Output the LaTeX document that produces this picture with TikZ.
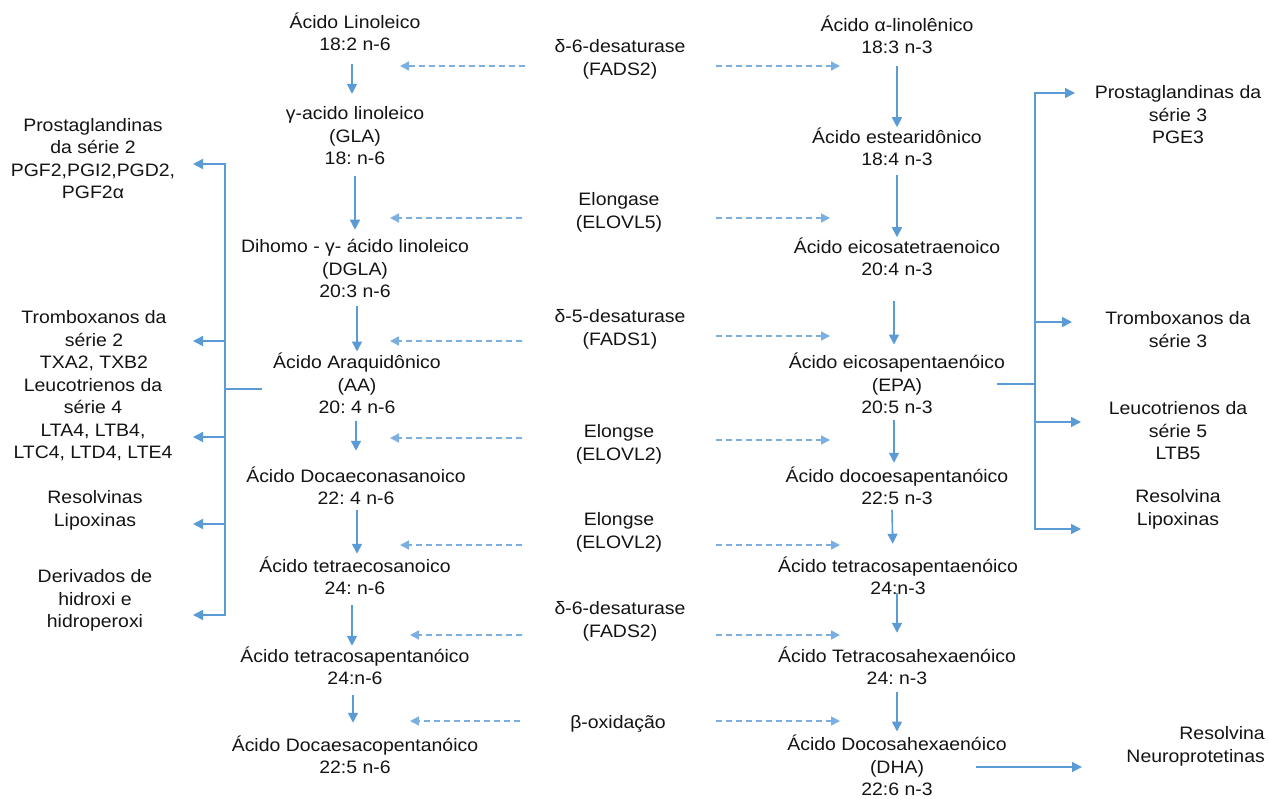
\documentclass[tikz,border=0pt]{standalone}
\usepackage{fontspec}
\setmainfont{Liberation Sans}[FakeStretch=1.08]
\usetikzlibrary{arrows.meta}
\definecolor{arrblue}{HTML}{5B9BD5}
\definecolor{dashblue}{HTML}{7BAFE0}
\definecolor{ink}{HTML}{141414}
\frenchspacing
\begin{document}
\begin{tikzpicture}[x=1pt,y=-1pt,
  txt/.style={font=\fontsize{18}{22.5}\selectfont, align=center, inner sep=0pt, text=ink,
    execute at begin node=\rule{0pt}{17pt}, execute at end node=\rule[-5pt]{0pt}{5pt}},
  arr/.style={draw=arrblue, line width=1.6pt, -{Triangle[length=10pt,width=10pt]}},
  darr/.style={draw=dashblue, line width=1.6pt, dash pattern=on 6pt off 4pt, -{Triangle[length=9pt,width=9pt]}},
  ln/.style={draw=arrblue, line width=1.6pt}]
\useasboundingbox (0,0) rectangle (1269,798);
\fill[white] (0,0) rectangle (1269,798);

% n-6 column
\node[txt] (la)   at (355,34)  {Ácido Linoleico\\18:2 n-6};
\node[txt] (gla)  at (355,138) {γ-acido linoleico\\(GLA)\\18: n-6};
\node[txt] (dgla) at (355,271) {Dihomo - γ- ácido linoleico\\(DGLA)\\20:3 n-6};
\node[txt] (aa)   at (357,386) {Ácido Araquidônico\\(AA)\\20: 4 n-6};
\node[txt] (dpa6) at (356,488) {Ácido Docaeconasanoico\\22: 4 n-6};
\node[txt] (tta)  at (355,578) {Ácido tetraecosanoico\\24: n-6};
\node[txt] (tpa)  at (355,668) {Ácido tetracosapentanóico\\24:n-6};
\node[txt] (dpa)  at (355,757) {Ácido Docaesacopentanóico\\22:5 n-6};

% enzymes
\node[txt] (e1) at (620,60)  {δ-6-desaturase\\(FADS2)};
\node[txt] (e2) at (619,213) {Elongase\\(ELOVL5)};
\node[txt] (e3) at (620,330) {δ-5-desaturase\\(FADS1)};
\node[txt] (e4) at (619,445) {Elongse\\(ELOVL2)};
\node[txt] (e5) at (619,533) {Elongse\\(ELOVL2)};
\node[txt] (e6) at (620,622) {δ-6-desaturase\\(FADS2)};
\node[txt] (e7) at (618,722) {β-oxidação};

% n-3 column
\node[txt] (ala)  at (897,37)  {Ácido α-linolênico\\18:3 n-3};
\node[txt] (sda)  at (897,149) {Ácido estearidônico\\18:4 n-3};
\node[txt] (eta)  at (897,259) {Ácido eicosatetraenoico\\20:4 n-3};
\node[txt] (epa)  at (897,386) {Ácido eicosapentaenóico\\(EPA)\\20:5 n-3};
\node[txt] (dpa3) at (897,488) {Ácido docoesapentanóico\\22:5 n-3};
\node[txt] (tpa3) at (898,578) {Ácido tetracosapentaenóico\\24:n-3};
\node[txt] (tha)  at (897,668) {Ácido Tetracosahexaenóico\\24: n-3};
\node[txt] (dha)  at (897,768) {Ácido Docosahexaenóico\\(DHA)\\22:6 n-3};

% left products
\node[txt] (pg2) at (93,161)  {Prostaglandinas\\da série 2\\PGF2,PGI2,PGD2,\\PGF2α};
\node[txt] (tx2) at (94,342)  {Tromboxanos da\\série 2\\TXA2, TXB2};
\node[txt] (lt4) at (93,421)  {Leucotrienos da\\série 4\\LTA4, LTB4,\\LTC4, LTD4, LTE4};
\node[txt] (rl2) at (95,511)  {Resolvinas\\Lipoxinas};
\node[txt] (der) at (95,601)  {Derivados de\\hidroxi e\\hidroperoxi};

% right products
\node[txt] (pg3) at (1178,117) {Prostaglandinas da\\série 3\\PGE3};
\node[txt] (tx3) at (1178,332) {Tromboxanos da\\série 3};
\node[txt] (lt5) at (1178,433) {Leucotrienos da\\série 5\\LTB5};
\node[txt] (rl3) at (1178,510) {Resolvina\\Lipoxinas};
\node[txt, align=right, anchor=east] (rn) at (1265,747) {Resolvina\\Neuroprotetinas};

% n-6 flow
\draw[arr, shorten <=8.5pt, shorten >=12.5pt] ([xshift=-3pt]la.south) -- ([xshift=-3pt]gla.north);
\draw[arr, shorten <=6.5pt, shorten >=9.5pt] (gla.south) -- (dgla.north);
\draw[arr, shorten <=3.5pt, shorten >=1.5pt] ([xshift=2pt]dgla.south) -- ([xshift=0pt]aa.north);
\draw[arr, shorten <=1.5pt, shorten >=15.5pt] ([xshift=-1pt]aa.south) -- (dpa6.north);
\draw[arr, shorten <=0.5pt, shorten >=2.5pt] ([xshift=1pt]dpa6.south) -- ([xshift=2pt]tta.north);
\draw[arr, shorten <=5.5pt, shorten >=0.5pt] ([xshift=-3pt]tta.south) -- ([xshift=-3pt]tpa.north);
\draw[arr, shorten <=5.5pt, shorten >=12.5pt] ([xshift=-2pt]tpa.south) -- ([xshift=-2pt]dpa.north);

% n-3 flow
\draw[arr, shorten <=7.5pt, shorten >=0pt] (ala.south) -- (sda.north);
\draw[arr, shorten <=4.5pt, shorten >=0pt] (sda.south) -- (eta.north);
\draw[arr, shorten <=20.5pt, shorten >=8.5pt] ([xshift=-3pt]eta.south) -- ([xshift=-3pt]epa.north);
\draw[arr, shorten <=0.5pt, shorten >=3.5pt] ([xshift=-3pt]epa.south) -- ([xshift=-3pt]dpa3.north);
\draw[arr, shorten <=0pt, shorten >=12.5pt] ([xshift=-5pt]dpa3.south) -- ([xshift=-5pt]tpa3.north);
\draw[arr, shorten <=-6.5pt, shorten >=13.5pt] ([xshift=-1pt]tpa3.south) -- (tha.north);
\draw[arr, shorten <=2.5pt, shorten >=3.5pt] (tha.south) -- (dha.north);

% enzyme dashed arrows
\coordinate (d1a) at (525,66);  \coordinate (d1b) at (400,66);
\coordinate (d1c) at (716,66);  \coordinate (d1d) at (840,66);
\coordinate (d2a) at (522,218); \coordinate (d2b) at (390,218);
\coordinate (d2c) at (716,218); \coordinate (d2d) at (830,218);
\coordinate (d3a) at (522,341); \coordinate (d3b) at (390,341);
\coordinate (d3c) at (716,336); \coordinate (d3d) at (830,336);
\coordinate (d4a) at (522,438); \coordinate (d4b) at (390,438);
\coordinate (d4c) at (716,440); \coordinate (d4d) at (830,440);
\coordinate (d5a) at (522,545); \coordinate (d5b) at (400,545);
\coordinate (d5c) at (716,545); \coordinate (d5d) at (840,545);
\coordinate (d6a) at (522,635); \coordinate (d6b) at (410,635);
\coordinate (d6c) at (716,635); \coordinate (d6d) at (840,635);
\coordinate (d7a) at (520,721); \coordinate (d7b) at (410,721);
\coordinate (d7c) at (716,721); \coordinate (d7d) at (840,721);
\foreach \i in {1,...,7}{
  \draw[darr] (d\i a) -- (d\i b);
  \draw[darr] (d\i c) -- (d\i d);
}

% left branching from AA
\coordinate (lbt) at (225,164);
\coordinate (lbe) at (225,389);
\coordinate (lbb) at (225,615);
\coordinate (aaw) at (262,389);
\coordinate (lt1) at (193,164);
\coordinate (lt2) at (193,341);
\coordinate (lt3) at (193,437);
\coordinate (lt4p) at (193,524);
\coordinate (lt5) at (193,615);
\draw[ln] (aaw) -- (lbe);
\draw[arr] (lbe) -- (lbt) -- (lt1);
\draw[arr] (lbe) -- (lbb) -- (lt5);
\draw[arr] (lbe |- lt2) -- (lt2);
\draw[arr] (lbe |- lt3) -- (lt3);
\draw[arr] (lbe |- lt4p) -- (lt4p);

% right branching from EPA
\coordinate (rbt) at (1035,93);
\coordinate (rbe) at (1035,384);
\coordinate (rbb) at (1035,529);
\coordinate (epe) at (997,384);
\coordinate (rt1) at (1075,93);
\coordinate (rt2) at (1072,322);
\coordinate (rt3) at (1081,422);
\coordinate (rt4) at (1081,529);
\draw[ln] (epe) -- (rbe);
\draw[arr] (rbe) -- (rbt) -- (rt1);
\draw[arr] (rbe) -- (rbb) -- (rt4);
\draw[arr] (rbe |- rt2) -- (rt2);
\draw[arr] (rbe |- rt3) -- (rt3);

% DHA to products
\coordinate (dhe) at (976,767);
\coordinate (rnt) at (1082,767);
\draw[arr] (dhe) -- (rnt);
\end{tikzpicture}
\end{document}
